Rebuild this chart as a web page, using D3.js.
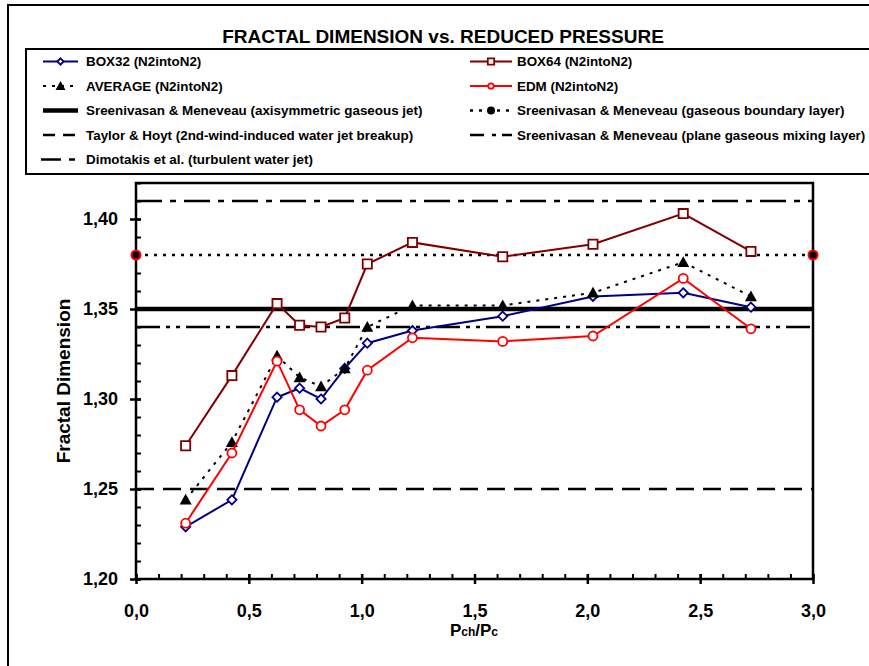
<!DOCTYPE html>
<html>
<head>
<meta charset="utf-8">
<script src="https://cdn.jsdelivr.net/npm/d3@7"></script>
<style>
  body { margin: 0; background: #fff; }
  svg { display: block; font-family: "Liberation Sans", Arial, sans-serif; font-weight: bold; }
</style>
</head>
<body>
<svg id="viz" width="869" height="666"></svg>
<script>
// data
const xVals   = [0.22, 0.425, 0.625, 0.725, 0.82, 0.925, 1.025, 1.225, 1.625, 2.025, 2.425, 2.725];
const box32   = [1.229, 1.244, 1.301, 1.306, 1.300, 1.317, 1.331, 1.338, 1.346, 1.357, 1.359, 1.351];
const box64   = [1.274, 1.313, 1.353, 1.341, 1.340, 1.345, 1.375, 1.387, 1.379, 1.386, 1.403, 1.382];
const average = [1.244, 1.276, 1.324, 1.312, 1.307, 1.317, 1.340, 1.352, 1.352, 1.359, 1.376, 1.357];
const edm     = [1.231, 1.270, 1.321, 1.294, 1.285, 1.294, 1.316, 1.334, 1.332, 1.335, 1.367, 1.339];

// literature reference values (horizontal lines)
const refNames  = ["axisym", "boundary", "taylor", "plane", "dimotakis"];
const refValues = [1.35, 1.38, 1.25, 1.34, 1.41];

const xTicks = [0, 0.5, 1, 1.5, 2, 2.5, 3];
const yTicks = [1.20, 1.25, 1.30, 1.35, 1.40];

const legendLabels = [
  "BOX32 (N2intoN2)", "BOX64 (N2intoN2)",
  "AVERAGE (N2intoN2)", "EDM (N2intoN2)",
  "Sreenivasan & Meneveau (axisymmetric gaseous jet)", "Sreenivasan & Meneveau (gaseous boundary layer)",
  "Taylor & Hoyt (2nd-wind-induced water jet breakup)", "Sreenivasan & Meneveau (plane gaseous mixing layer)",
  "Dimotakis et al. (turbulent water jet)"
];

const svg = d3.select("#viz");
const comma = f => v => d3.format(f)(v).replace(".", ",");

// styles per key
const st = {
  box32:     {stroke: "#000080", width: 2, dash: null, marker: "diamond"},
  box64:     {stroke: "#800000", width: 2, dash: null, marker: "square"},
  average:   {stroke: "#000", width: 2, dash: "3,6", marker: "triangle"},
  edm:       {stroke: "#ff0000", width: 2, dash: null, marker: "circle"},
  axisym:    {stroke: "#000", width: 4.5, dash: null},
  boundary:  {stroke: "#000", width: 2.5, dash: "3,6", marker: "dot"},
  taylor:    {stroke: "#000", width: 2.5, dash: "18,9"},
  plane:     {stroke: "#000", width: 2.5, dash: "24,6,4,6,4,6"},
  dimotakis: {stroke: "#000", width: 2.5, dash: "26,8,6,8"}
};

function markerPath(kind, r){
  if(kind === "diamond") return `M0,${-r}L${r},0L0,${r}L${-r},0Z`;
  if(kind === "square") return `M${-r},${-r}H${r}V${r}H${-r}Z`;
  if(kind === "triangle") return `M0,${-r}L${r},${r*0.8}L${-r},${r*0.8}Z`;
  return null;
}

function drawMarker(g, kind, cx, cy, s, color){
  if(kind === "circle"){
    g.append("circle").attr("cx", cx).attr("cy", cy).attr("r", s*0.85)
      .attr("fill", "#fff").attr("stroke", color).attr("stroke-width", 1.8);
  } else if(kind === "dot"){
    g.append("circle").attr("cx", cx).attr("cy", cy).attr("r", s)
      .attr("fill", "#000").attr("stroke", color).attr("stroke-width", 2);
  } else if(kind === "triangle"){
    g.append("path").attr("transform", `translate(${cx},${cy})`).attr("d", markerPath(kind, s))
      .attr("fill", color);
  } else {
    g.append("path").attr("transform", `translate(${cx},${cy})`).attr("d", markerPath(kind, s))
      .attr("fill", "#fff").attr("stroke", color).attr("stroke-width", 1.8);
  }
}

// outer frame
svg.append("rect").attr("x", 8).attr("y", 5).attr("width", 900).attr("height", 700)
  .attr("fill", "#fff").attr("stroke", "#000").attr("stroke-width", 2);

// title
svg.append("text").attr("x", 443).attr("y", 43).attr("text-anchor", "middle")
  .attr("font-size", 19).text("FRACTAL DIMENSION vs. REDUCED PRESSURE");

// legend
svg.append("rect").attr("x", 26).attr("y", 49).attr("width", 900).attr("height", 125)
  .attr("fill", "#fff").attr("stroke", "#000").attr("stroke-width", 2);

const legendKeys = ["box32", "box64", "average", "edm", "axisym", "boundary", "taylor", "plane", "dimotakis"];
const rowY = [61.5, 86, 110.5, 135, 159.5];
const colX = [{x0: 43, x1: 78, tx: 86}, {x0: 470, x1: 512, tx: 517}];
legendKeys.forEach((k, i) => {
  const c = colX[i % 2], yy = rowY[Math.floor(i / 2)], s = st[k];
  const g = svg.append("g");
  let x0 = c.x0;
  if(k === "dimotakis") x0 = c.x0 - 2;
  g.append("line").attr("x1", x0).attr("x2", c.x1).attr("y1", yy).attr("y2", yy)
    .attr("stroke", s.stroke).attr("stroke-width", s.width)
    .attr("stroke-dasharray", k === "taylor" ? "12,8" : k === "plane" ? "14,8,4,6" : k === "dimotakis" ? "20,8,6,8" : s.dash);
  if(s.marker){
    const mx = (x0 + c.x1) / 2;
    if(s.marker === "dot") drawMarker(g, "dot", mx, yy, 3, "#000");
    else drawMarker(g, s.marker, mx, yy, s.marker === "triangle" ? 5 : 3.2, s.stroke);
  }
  g.append("text").attr("x", c.tx).attr("y", yy + 4.8).attr("font-size", 13.4).text(legendLabels[i]);
});

// scales
const x = d3.scaleLinear().domain([0, 3]).range([136, 813]);
const y = d3.scaleLinear().domain([1.20, 1.42]).range([579, 183]);

// reference lines
const refG = svg.append("g");
refNames.forEach((k, i) => {
  const s = st[k];
  refG.append("line").attr("x1", x(0)).attr("x2", x(3)).attr("y1", y(refValues[i])).attr("y2", y(refValues[i]))
    .attr("stroke", s.stroke).attr("stroke-width", s.width).attr("stroke-dasharray", s.dash);
});

// plot frame
svg.append("rect").attr("x", x(0)).attr("y", y(1.42)).attr("width", x(3) - x(0)).attr("height", y(1.2) - y(1.42))
  .attr("fill", "none").attr("stroke", "#000").attr("stroke-width", 2.5);

// axes
const yMinor = d3.range(1.20, 1.4201, 0.01).map(v => +v.toFixed(2));
const xMinor = d3.range(0, 3.001, 0.1).map(v => +v.toFixed(1));

const yAx = svg.append("g").attr("transform", `translate(${x(0)},0)`)
  .call(d3.axisLeft(y).tickValues(yTicks).tickFormat(comma(".2f")).tickSize(6).tickPadding(12));
yAx.select(".domain").remove();
yAx.selectAll(".tick line").attr("x1", 5).attr("stroke-width", 2.5);
yAx.selectAll("text").attr("font-size", 18).attr("font-family", null).attr("fill", "#000");
const yMin = svg.append("g").attr("transform", `translate(${x(0)},0)`)
  .call(d3.axisRight(y).tickValues(yMinor).tickFormat("").tickSize(5));
yMin.select(".domain").remove();
yMin.selectAll("line").attr("stroke-width", 2);

const xAx = svg.append("g").attr("transform", `translate(0,${y(1.2)})`)
  .call(d3.axisBottom(x).tickValues(xTicks).tickFormat(comma(".1f")).tickSize(5).tickPadding(20));
xAx.select(".domain").remove();
xAx.selectAll(".tick line").attr("y1", -5).attr("stroke-width", 2.5);
xAx.selectAll("text").attr("font-size", 18).attr("font-family", null).attr("fill", "#000");
const xMin = svg.append("g").attr("transform", `translate(0,${y(1.2)})`)
  .call(d3.axisTop(x).tickValues(xMinor).tickFormat("").tickSize(5));
xMin.select(".domain").remove();
xMin.selectAll("line").attr("stroke-width", 2);

// axis titles
svg.append("text").attr("transform", "translate(70,381) rotate(-90)").attr("text-anchor", "middle")
  .attr("font-size", 19).text("Fractal Dimension");
const xt = svg.append("text").attr("x", 474).attr("y", 636).attr("text-anchor", "middle").attr("font-size", 17);
xt.append("tspan").text("P");
xt.append("tspan").attr("font-size", 12).text("ch");
xt.append("tspan").text("/P");
xt.append("tspan").attr("font-size", 12).text("c");

// series
const seriesKeys = ["box32", "box64", "average", "edm"];
const seriesVals = [box32, box64, average, edm];
const line = d3.line().x(d => x(d[0])).y(d => y(d[1]));
seriesKeys.forEach((k, i) => {
  const s = st[k];
  const pts = xVals.map((xv, j) => [xv, seriesVals[i][j]]);
  const g = svg.append("g");
  g.append("path").attr("d", line(pts)).attr("fill", "none")
    .attr("stroke", s.stroke).attr("stroke-width", s.width).attr("stroke-dasharray", s.dash);
  pts.forEach(p => drawMarker(g, s.marker, x(p[0]), y(p[1]),
    s.marker === "triangle" ? 6 : s.marker === "circle" ? 5.3 : 4.6, s.stroke));
});

// boundary-layer end markers
[0, 3].forEach(v => drawMarker(svg, "dot", x(v), y(refValues[1]), 4.5, "#ff0000"));
</script>
</body>
</html>
